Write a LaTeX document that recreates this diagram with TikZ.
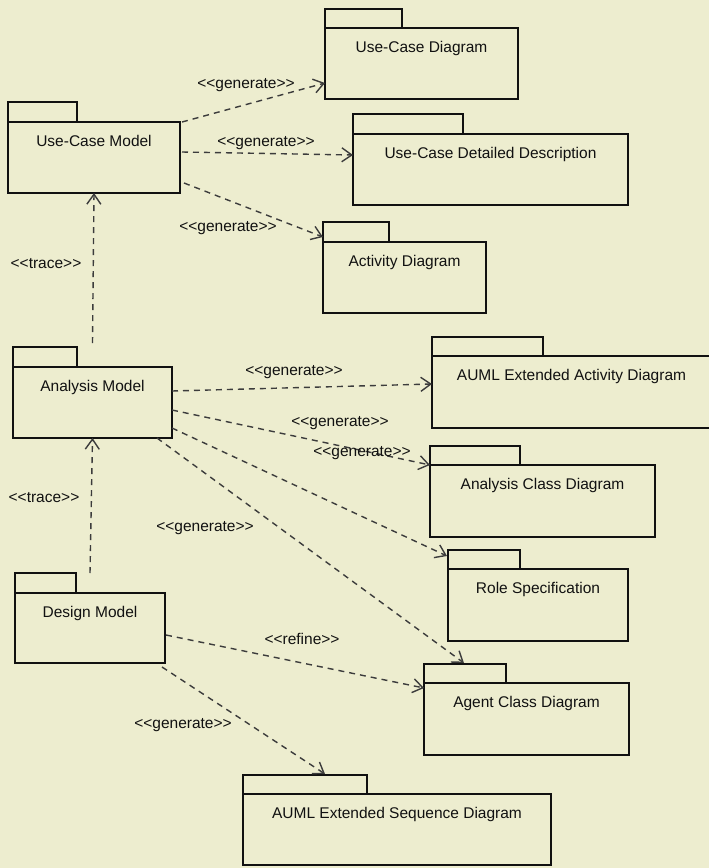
\documentclass[tikz,border=0pt]{standalone}
\usepackage{fontspec}
\newfontfamily\umlfont{Liberation Sans}
\usetikzlibrary{arrows.meta}
\definecolor{bg}{RGB}{237,237,207}
\definecolor{ink}{RGB}{17,17,17}
\definecolor{depc}{RGB}{60,60,60}
\begin{document}
\begin{tikzpicture}[x=1pt,y=-1pt,
  pkg/.style={draw=ink, line width=2.6pt, inner sep=0pt, outer sep=0pt, anchor=north west,
    text height=24pt, font=\umlfont\fontsize{15.5}{18}\selectfont, text=ink},
  tabline/.style={draw=ink, line width=2.6pt},
  dep/.style={draw=depc, line width=1.4pt, dash pattern=on 6pt off 5pt,
    -{Straight Barb[length=10pt,width=14pt]}},
  lbl/.style={font=\umlfont\fontsize{15.5}{18}\selectfont, text=ink, inner sep=0pt}]

\fill[bg] (0,0) rectangle (709,868);
\useasboundingbox (0,0) rectangle (709,868);

% packages
\node[pkg, minimum width=193pt, text depth=47pt] (ucd) at (325,28) {Use-Case Diagram};
\draw[tabline] (ucd.north west) rectangle ++(77,-19);

\node[pkg, minimum width=275pt, text depth=47pt] (ucdd) at (353,134) {Use-Case Detailed Description};
\draw[tabline] (ucdd.north west) rectangle ++(110,-20);

\node[pkg, minimum width=163pt, text depth=47pt] (act) at (323,242) {Activity Diagram};
\draw[tabline] (act.north west) rectangle ++(66,-20);

\node[pkg, minimum width=172pt, text depth=47pt] (ucm) at (8,122) {Use-Case Model};
\draw[tabline] (ucm.north west) rectangle ++(69,-20);

\node[pkg, minimum width=159pt, text depth=47pt] (anm) at (13,367) {Analysis Model};
\draw[tabline] (anm.north west) rectangle ++(64,-20);

\node[pkg, minimum width=150pt, text depth=46pt] (dsm) at (15,593) {Design Model};
\draw[tabline] (dsm.north west) rectangle ++(61,-20);

\node[pkg, minimum width=279pt, text depth=48pt] (aead) at (432,356) {AUML Extended Activity Diagram};
\draw[tabline] (aead.north west) rectangle ++(111,-19);

\node[pkg, minimum width=225pt, text depth=48pt] (acd) at (430,465) {Analysis Class Diagram};
\draw[tabline] (acd.north west) rectangle ++(90,-19);

\node[pkg, minimum width=180pt, text depth=48pt] (rs) at (448,569) {Role Specification};
\draw[tabline] (rs.north west) rectangle ++(72,-19);

\node[pkg, minimum width=205pt, text depth=48pt] (agc) at (424,683) {Agent Class Diagram};
\draw[tabline] (agc.north west) rectangle ++(82,-19);

\node[pkg, minimum width=308pt, text depth=47pt] (aesd) at (243,794) {AUML Extended Sequence Diagram};
\draw[tabline] (aesd.north west) rectangle ++(124,-19);

% connectors
\draw[dep] ([shift={(2,0)}]ucm.north east) -- ([shift={(0,55)}]ucd.north west);
\draw[dep] ([shift={(2,30)}]ucm.north east) -- ([shift={(0,21)}]ucdd.north west);
\draw[dep] ([shift={(4,61)}]ucm.north east) -- ([shift={(0,-5)}]act.north west);
\draw[dep] ([shift={(0,-24)}]anm.north) -- (ucm.south);
\draw[dep] ([shift={(0,-20)}]dsm.north) -- (anm.south);
\draw[dep] ([shift={(0,24)}]anm.north east) -- ([shift={(0,28)}]aead.north west);
\draw[dep] ([shift={(0,43)}]anm.north east) -- (acd.north west);
\draw[dep] ([shift={(0,61)}]anm.north east) -- ([shift={(-1,-13)}]rs.north west);
\draw[dep] ([shift={(-15,0)}]anm.south east) -- ([shift={(40,-20)}]agc.north west);
\draw[dep] ([shift={(1,42)}]dsm.north east) -- ([shift={(0,5)}]agc.north west);
\draw[dep] ([shift={(-3,4)}]dsm.south east) -- ([shift={(82,-20)}]aesd.north west);

% labels
\node[lbl] (l1) at (246,85) {<<generate>>};
\node[lbl] (l2) at (266,143) {<<generate>>};
\node[lbl] (l3) at (228,228) {<<generate>>};
\node[lbl] (t1) at (46,264) {<<trace>>};
\node[lbl] (l4) at (294,372) {<<generate>>};
\node[lbl] (l5) at (340,423) {<<generate>>};
\node[lbl] (l6) at (362,453) {<<generate>>};
\node[lbl] (l7) at (205,528) {<<generate>>};
\node[lbl] (t2) at (44,498) {<<trace>>};
\node[lbl] (r1) at (302,639) {<<refine>>};
\node[lbl] (l8) at (183,725) {<<generate>>};
\end{tikzpicture}
\end{document}
